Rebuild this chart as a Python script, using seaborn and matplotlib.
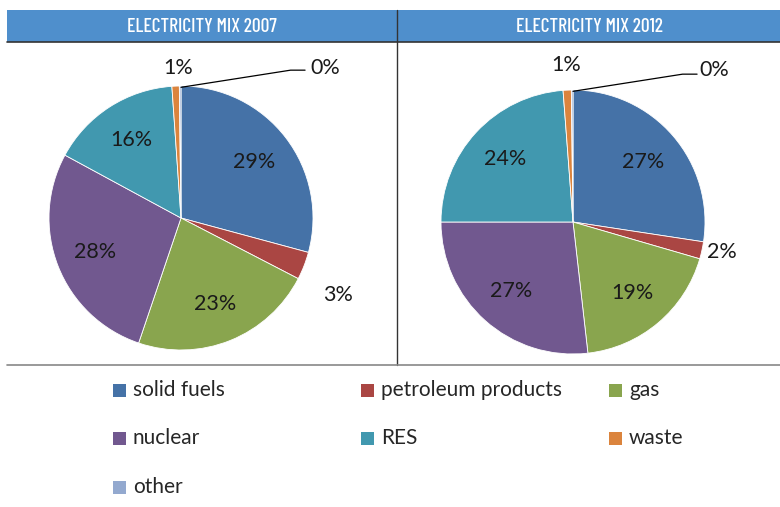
import numpy as np
import matplotlib
matplotlib.use("Agg")
import matplotlib.pyplot as plt
import seaborn as sns
from matplotlib.patches import Rectangle
from matplotlib.lines import Line2D
import logging
logging.getLogger('matplotlib.font_manager').setLevel(logging.ERROR)

sns.set_theme(style="white")
plt.rcParams['font.family'] = ['Lato', 'DejaVu Sans']

# data (shares of electricity generation, %)
sources = ['solid fuels', 'petroleum products', 'gas', 'nuclear', 'RES', 'waste', 'other']
mix_2007 = [29.2, 3.4, 22.6, 27.7, 16.0, 0.9, 0.2]
mix_2012 = [27.4, 2.1, 18.7, 26.8, 23.8, 1.0, 0.2]
titles = ['ELECTRICITY MIX 2007', 'ELECTRICITY MIX 2012']
colors = ['#4572A7', '#AA4643', '#89A54E', '#71588F', '#4198AF', '#DB843D', '#93A9CF']

W, H = 780, 507
fig = plt.figure(figsize=(W / 100, H / 100), dpi=100)


def fx(x):
    return x / W


def fy(y):
    return 1 - y / H


# header bar and frame lines
fig.patches.append(Rectangle((fx(7), fy(42)), fx(773), 32 / H, transform=fig.transFigure,
                             facecolor='#4F8FCC', edgecolor='none', zorder=0))
fig.lines.append(Line2D([fx(7), fx(780)], [fy(42), fy(42)], transform=fig.transFigure,
                        color='#333333', lw=1.2))
fig.lines.append(Line2D([fx(397), fx(397)], [fy(10), fy(365)], transform=fig.transFigure,
                        color='#333333', lw=1.0))
fig.lines.append(Line2D([fx(7), fx(780)], [fy(365), fy(365)], transform=fig.transFigure,
                        color='#888888', lw=1.2))

for title, cx in zip(titles, [202, 589]):
    fig.text(fx(cx), fy(27), title, color='white', fontsize=14, ha='center', va='center',
             family=['Barlow Condensed', 'DejaVu Sans'], fontweight='medium')

# pie placement (pixel centres, radius) and manual spots for the small-slice labels
pies = [
    dict(values=mix_2007, center=(181, 218), r=132,
         outside={1: (1.19, -0.58), 5: (-0.02, 1.14), 6: (1.09, 1.14)},
         leader=[(0.0, 0.99), (0.83, 1.12), (0.94, 1.12)]),
    dict(values=mix_2012, center=(573, 222), r=132,
         outside={1: (1.13, -0.23), 5: (-0.05, 1.19), 6: (1.07, 1.15)},
         leader=[(0.0, 0.99), (0.83, 1.12), (0.94, 1.12)]),
]

for p in pies:
    cx, cy = p['center']
    r = p['r']
    ax = fig.add_axes([fx(cx - r), fy(cy + r), 2 * r / W, 2 * r / H])
    wedges, _ = ax.pie(p['values'], colors=colors, startangle=90, counterclock=False,
                       radius=1, wedgeprops=dict(edgecolor='white', linewidth=0.6))
    ax.set_xlim(-1, 1)
    ax.set_ylim(-1, 1)
    ax.axis('off')
    for i, (w, v) in enumerate(zip(wedges, p['values'])):
        label = f'{round(v):d}%'
        if i in p['outside']:
            x, y = p['outside'][i]
        else:
            ang = np.deg2rad((w.theta1 + w.theta2) / 2)
            x, y = 0.7 * np.cos(ang), 0.7 * np.sin(ang)
        ax.text(x, y, label, ha='center', va='center', fontsize=15.5, color='#1a1a1a',
                clip_on=False)
    lx, ly = zip(*p['leader'])
    ax.add_line(Line2D(lx, ly, color='black', lw=0.9, clip_on=False))

# legend drawn as a 3-column grid
for k, (name, c) in enumerate(zip(sources, colors)):
    row, col = divmod(k, 3)
    x = 113 + 248 * col
    y = 390 + 48.5 * row
    fig.patches.append(Rectangle((fx(x), fy(y + 6.5)), 13 / W, 13 / H, transform=fig.transFigure,
                                 facecolor=c, edgecolor='none'))
    fig.text(fx(x + 20), fy(y), name, fontsize=15, color='#262626', ha='left', va='center')

fig.savefig('out.png', dpi=100, facecolor='white')
